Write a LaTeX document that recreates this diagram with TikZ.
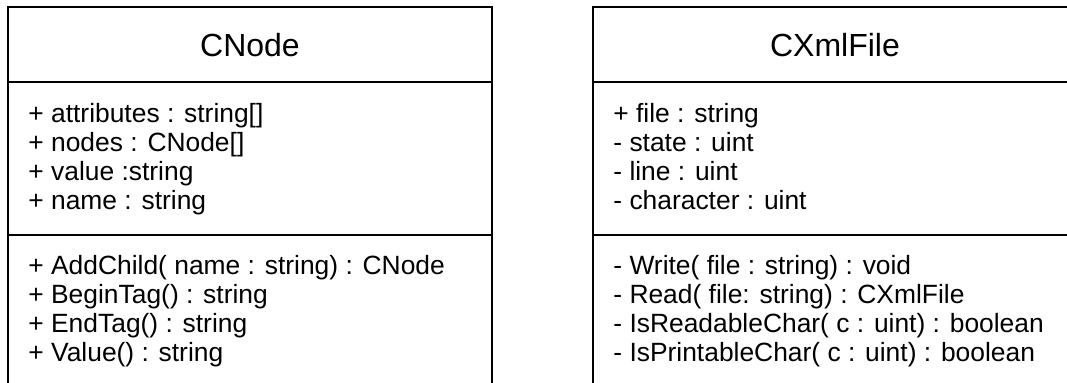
\documentclass[tikz,border=0pt]{standalone}
\usepackage{fontspec}
\setmainfont{Liberation Sans}
\tikzset{
  classbox/.style={line width=1pt},
  classtitle/.style={font=\fontsize{16}{19}\selectfont, inner sep=0pt},
  member/.style={font=\fontsize{13.2}{14.5}\selectfont, anchor=base west, inner sep=0pt},
}

\begin{document}
\begin{tikzpicture}[x=0.5pt,y=0.5pt]
  \useasboundingbox (0,0) rectangle (1067,383);
  \clip (0,0) rectangle (1067,383);

  %%%%% CNode %%%%%
  \draw[classbox] (8,376) rectangle (492,-10);
  \draw[classbox] (8,301) -- (492,301);
  \draw[classbox] (8,148) -- (492,148);
  \node[classtitle] (cnodetitle) at (250,338) {CNode};

  \foreach \txt [count=\i] in {{+ attributes : string[]},{+ nodes : CNode[]},{+ value :string},{+ name : string}}
    \node[member] (cnodeattr\i) at (28,{260-29*(\i-1)}) {\txt};
  \foreach \txt [count=\i] in {{+ AddChild( name : string) : CNode},{+ BeginTag() : string},{+ EndTag() : string},{+ Value() : string}}
    \node[member] (cnodeop\i) at (28,{108-29*(\i-1)}) {\txt};

  %%%%% CXmlFile %%%%%
  \draw[classbox] (593,376) rectangle (1077,-10);
  \draw[classbox] (593,301) -- (1077,301);
  \draw[classbox] (593,148) -- (1077,148);
  \node[classtitle] (xmltitle) at (835,338) {CXmlFile};

  \foreach \txt [count=\i] in {{+ file : string},{- state : uint},{- line : uint},{- character : uint}}
    \node[member] (xmlattr\i) at (613,{260-29*(\i-1)}) {\txt};
  \foreach \txt [count=\i] in {{- Write( file : string) : void},{- Read( file: string) : CXmlFile},{- IsReadableChar( c : uint) : boolean},{- IsPrintableChar( c : uint) : boolean}}
    \node[member] (xmlop\i) at (613,{108-29*(\i-1)}) {\txt};
\end{tikzpicture}
\end{document}
